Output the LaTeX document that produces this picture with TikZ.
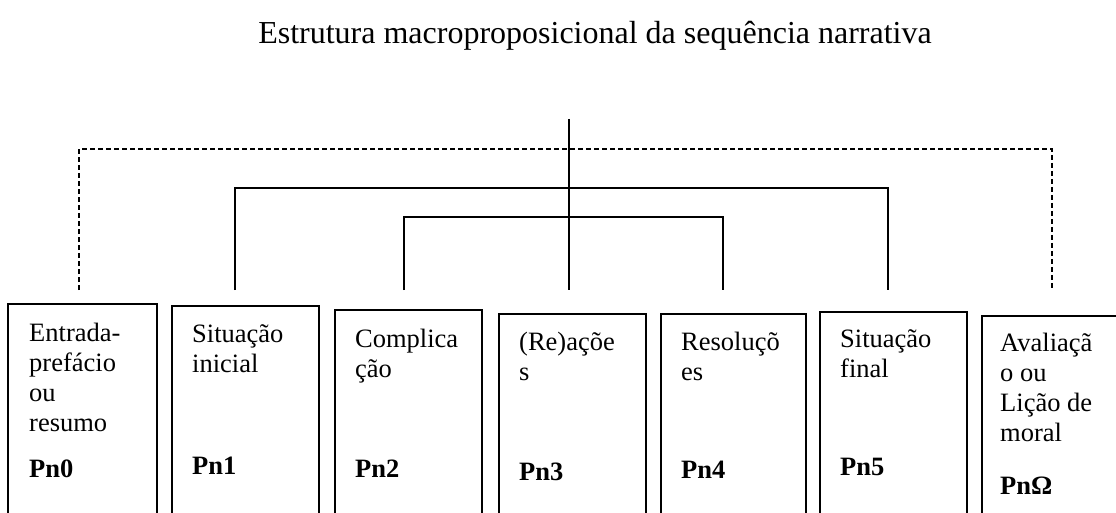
\documentclass[tikz,border=0pt]{standalone}
\usepackage{fontspec}
\setmainfont{Liberation Serif}
\usetikzlibrary{positioning}
\tikzset{
	box/.style={% proposition boxes, open at the lower edge of the page
		draw, rectangle,
		line width=1.1pt,
		minimum width=147pt,
		minimum height=240pt,
		outer sep=0pt,
		anchor=north west
	},
	txt/.style={
		anchor=north west,
		inner sep=0pt,
		align=left,
		font=\fontsize{26.5}{30}\selectfont
	},
	pn/.style={
		anchor=base west,
		inner sep=0pt,
		font=\fontsize{26.5}{30}\selectfont\bfseries
	},
	link/.style={line width=1.2pt},
	frame/.style={line width=1.1pt, dash pattern=on 5pt off 3pt}
}

\begin{document}
\begin{tikzpicture}[x=1pt,y=-1pt]
		\useasboundingbox (0,0) rectangle (1116,513);
		
		\node (title) [anchor=base, inner sep=0pt, font=\fontsize{32}{36}\selectfont] at (595,44)
		{Estrutura macroproposicional da sequência narrativa};
		
		% The boxes.
		\node (b0) [box, minimum width=149pt] at (8,304) {};
		\node (b1) [box] at (172,306) {};
		\node (b2) [box] at (335,310) {};
		\node (b3) [box] at (499,314) {};
		\node (b4) [box, minimum width=145pt] at (661,314) {};
		\node (b5) [box] at (820,312) {};
		\node (b6) [box] at (982,316) {};
		
		\node (t0) [txt, below right=19pt and 21pt of b0.north west] {Entrada-\\prefácio\\ou\\resumo};
		\node (t1) [txt, below right=18pt and 20pt of b1.north west] {Situação\\inicial};
		\node (t2) [txt, below right=19pt and 20pt of b2.north west] {Complica\\ção};
		\node (t3) [txt, below right=18pt and 20pt of b3.north west] {(Re)açõe\\s};
		\node (t4) [txt, below right=18pt and 20pt of b4.north west] {Resoluçõ\\es};
		\node (t5) [txt, below right=17pt and 20pt of b5.north west] {Situação\\final};
		\node (t6) [txt, below right=17pt and 18pt of b6.north west] {Avaliaçã\\o ou\\Lição de\\moral};
		
		\node (p0) [pn] at (29,477) {Pn0};
		\node (p1) [pn] at (192,474) {Pn1};
		\node (p2) [pn] at (355,477) {Pn2};
		\node (p3) [pn] at (519,480) {Pn3};
		\node (p4) [pn] at (681,478) {Pn4};
		\node (p5) [pn] at (840,475) {Pn5};
		\node (p6) [pn] at (1000,494) {PnΩ};
		
		% Feet of the brackets, just above the boxes.
		\coordinate (top) at (569,119);
		\coordinate (f0) at (79,290);
		\coordinate (f1) at (235,290);
		\coordinate (f2) at (404,290);
		\coordinate (f3) at (569,290);
		\coordinate (f4) at (723,290);
		\coordinate (f5) at (888,290);
		\coordinate (f6) at (1052,290);
		\coordinate (dash) at (569,149);
		\coordinate (outer) at (569,188);
		\coordinate (inner) at (569,217);
		
		\draw [frame] (f0) |- (dash) -| (f6);
		\draw [link] (f1) |- (outer) -| (f5);
		\draw [link] (f2) |- (inner) -| (f4);
		\draw [link] (top) -- (f3);
	\end{tikzpicture}
\end{document}
